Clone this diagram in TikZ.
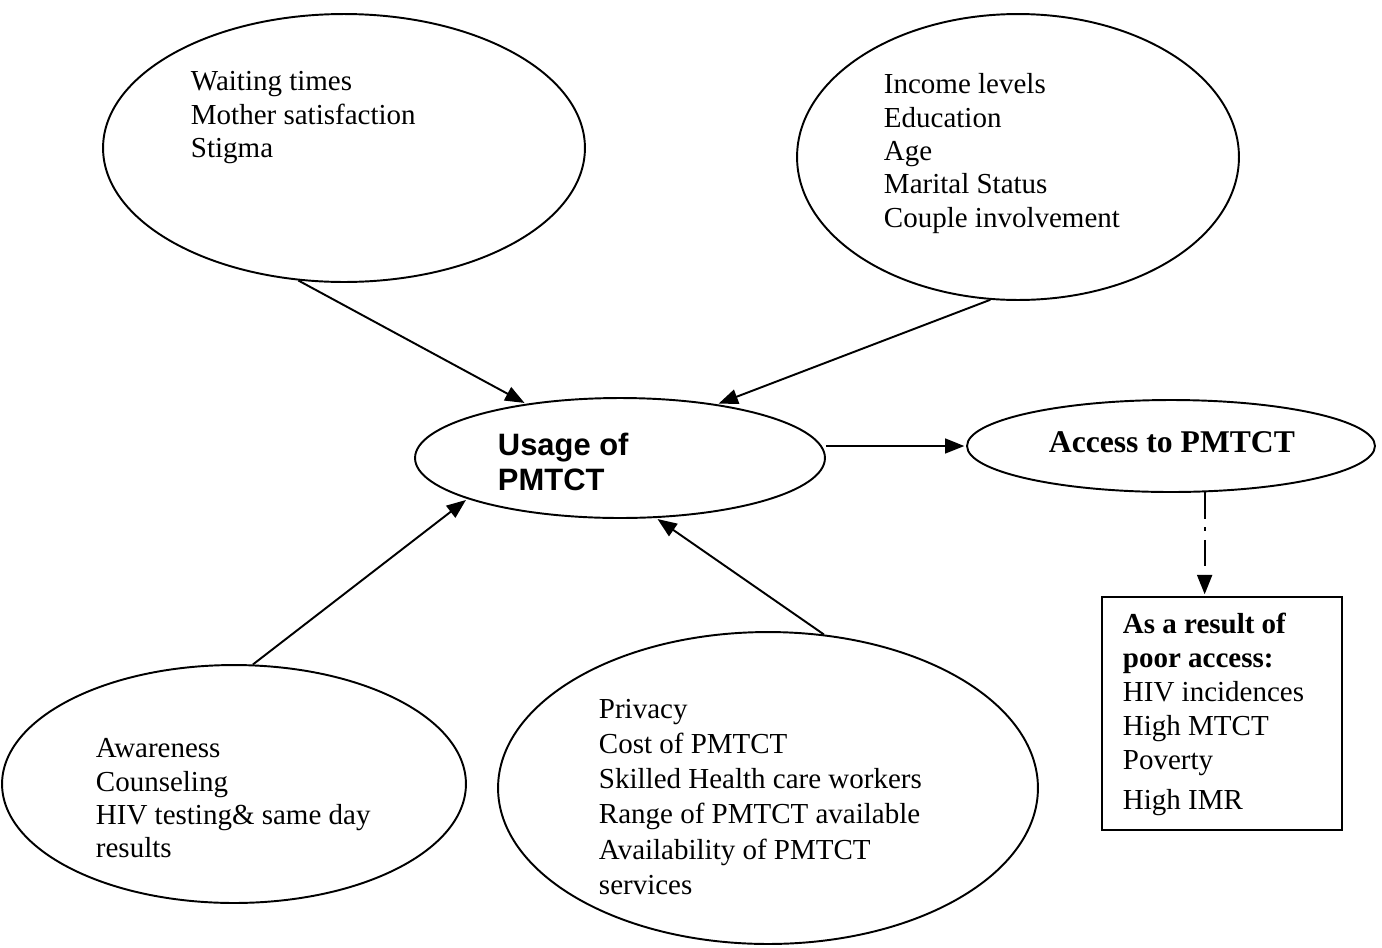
\documentclass[tikz,border=0pt]{standalone}
\usepackage{fontspec}
\setmainfont{Liberation Serif}
\newfontfamily\arialfont{Liberation Sans}
\usetikzlibrary{arrows.meta}
\usetikzlibrary{shapes.geometric}

\begin{document}
\begin{tikzpicture}[
            x = 0.02cm, y = -0.02cm, % one unit per pixel of the page
            > = {Triangle[length=11pt, width=8.5pt]}, % arrow head style
            shorten > = 1pt, % don't touch arrow head to node
            line width = 1.1pt,
            factor/.style = {draw, ellipse, inner sep = 0pt},
            factortext/.style = {anchor = north west, inner sep = 0pt, align = left,
                font = \fontsize{16.5}{19}\selectfont},
            link/.style = {->}
        ]

        \useasboundingbox (0,0) rectangle (1382,947);

	% factor clouds
        \node[factor, minimum width = 9.64cm, minimum height = 5.36cm] (Wait) at (344,148) {};
        \node[factor, minimum width = 8.84cm, minimum height = 5.72cm] (Soc) at (1018,157) {};
        \node[factor, minimum width = 9.28cm, minimum height = 4.76cm] (Aware) at (234,784) {};
        \node[factor, minimum width = 10.8cm, minimum height = 6.24cm] (Serv) at (768,788) {};

        \node[factortext] (WaitT) at (190,66.5) {\strut Waiting times\\Mother satisfaction\\Stigma};
        \node[factortext] (SocT) at (883,69.5) {\strut Income levels\\Education\\Age\\Marital Status\\Couple involvement};
        \node[factortext] (AwareT) at (95,733.5) {\strut Awareness\\Counseling\\HIV testing\& same day\\results};
        \node[factortext, font = \fontsize{16.5}{20}\selectfont] (ServT) at (598,693) {\strut Privacy\\Cost of PMTCT\\Skilled Health care workers\\Range of PMTCT available\\Availability of PMTCT\\services};

        % usage and access
        \node[factor, minimum width = 8.2cm, minimum height = 2.4cm] (Use) at (620,458) {};
        \node[factortext, font = \arialfont\bfseries\fontsize{17.6}{19.8}\selectfont] (UseT) at (497,430.5) {\strut Usage of\\PMTCT};

        \node[factor, minimum width = 8.16cm, minimum height = 1.84cm] (Acc) at (1171,446) {};
        \node[anchor = base west, inner sep = 0pt, font = \bfseries\fontsize{18}{20}\selectfont] (AccT) at (1048,452) {Access to PMTCT};

        % outcome
        \node[draw, rectangle, minimum width = 4.8cm, minimum height = 4.66cm, inner sep = 0pt] (Res) at (1222,713.5) {};
        \node[factortext, font = \fontsize{16.5}{19.3}\selectfont] (ResT) at (1122,609) {\strut\textbf{As a result of}\\\textbf{poor access:}\\HIV incidences\\High MTCT\\Poverty\\[3.5pt]High IMR};

        \draw[link] (Wait.251) -- (Use.150);
        \draw[link] (Soc.259) -- (Use.29);
        \draw[link] (Aware.81) -- (Use.195);
        \draw[link] (Serv.70) -- (Use.301);
        \draw[link] (Use.east |- Acc.west) -- (Acc.west);
        \draw[link, dash pattern = on 15pt off 5pt on 2pt off 5pt] (Acc.-54) -- (Acc.-54 |- Res.north);

\end{tikzpicture}
\end{document}
